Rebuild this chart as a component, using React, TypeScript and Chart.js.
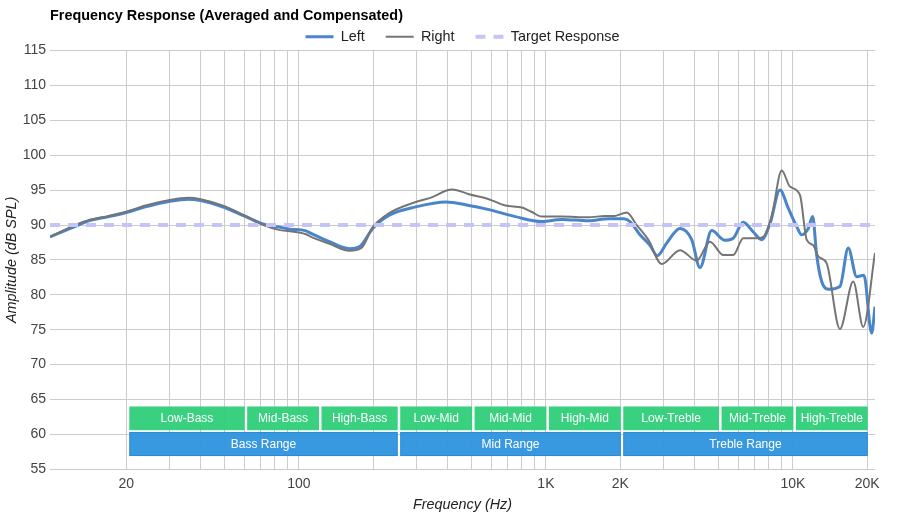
import React, { useEffect, useRef } from 'react';
import { Chart, registerables } from 'chart.js';

Chart.register(...registerables);

const FONT = '"Liberation Sans", Arial, Helvetica, sans-serif';

// ---- data ----
const X_MIN = 9.82;
const X_MAX = 21500;

const LEFT_FREQ = [9.82, 12.8, 14.1, 17, 20, 23.9, 30, 35.7, 40, 50, 60, 72, 83, 92, 106, 112, 133, 160, 176, 199, 232, 297, 393, 488, 587, 752, 963, 1159, 1486, 1789, 2057, 2190, 2404, 2638, 2824, 3083, 3489, 3892, 4205, 4689, 5308, 5735, 6296, 6912, 7474, 8077, 8865, 9577, 10357, 10853, 11541, 12026, 12481, 13078, 13907, 15504, 16754, 18119, 19389, 20836, 21500];
const LEFT_DB = [88.3, 90.0, 90.6, 91.2, 91.8, 92.6, 93.4, 93.7, 93.5, 92.5, 91.3, 90.1, 89.7, 89.4, 89.2, 88.8, 87.6, 86.6, 86.9, 89.5, 91.4, 92.6, 93.3, 92.8, 92.2, 91.2, 90.5, 90.8, 90.6, 90.9, 90.9, 90.5, 88.6, 87.1, 85.6, 87.4, 89.5, 87.9, 83.9, 89.2, 87.8, 88.1, 90.4, 89.0, 87.9, 90.2, 95.0, 92.4, 89.8, 88.6, 89.5, 91.2, 85.7, 81.9, 80.8, 81.2, 86.7, 82.6, 82.8, 74.5, 78.3];

const RIGHT_FREQ = [9.82, 12.8, 14.1, 17, 20, 23.9, 30, 35.7, 40, 50, 60, 72, 83, 92, 106, 112, 133, 160, 179, 199, 232, 297, 347, 393, 418, 488, 587, 686, 800, 873, 963, 1159, 1486, 1735, 1900, 2124, 2331, 2597, 2943, 3489, 4077, 4615, 5224, 5735, 6296, 7134, 7584, 8206, 9006, 9728, 10680, 11371, 12093, 12670, 13700, 15504, 17552, 19264, 21500];
const RIGHT_DB = [88.3, 90.2, 90.7, 91.3, 91.9, 92.8, 93.6, 93.9, 93.7, 92.7, 91.4, 90.0, 89.3, 89.1, 88.7, 88.3, 87.3, 86.3, 86.7, 89.7, 91.7, 93.3, 94.0, 94.9, 95.1, 94.4, 93.7, 92.8, 92.5, 91.9, 91.2, 91.2, 91.1, 91.3, 91.3, 91.8, 90.0, 87.9, 84.4, 86.4, 84.9, 87.6, 85.7, 85.7, 88.1, 88.1, 88.3, 91.2, 97.8, 95.5, 94.3, 87.9, 87.1, 85.5, 84.5, 75.1, 81.9, 75.4, 86.0];

const TARGET_FREQ = [9.82, 21500];
const TARGET_DB = [90, 90];

const GRID_TICKS = [20, 30, 40, 50, 60, 70, 80, 90, 100, 200, 300, 400, 500, 600, 700, 800, 900, 1000, 2000, 3000, 4000, 5000, 6000, 7000, 8000, 9000, 10000, 20000];
const LABEL_TICKS = [20, 100, 1000, 2000, 10000, 20000];

const BAND_NAMES = ['Low-Bass', 'Mid-Bass', 'High-Bass', 'Low-Mid', 'Mid-Mid', 'High-Mid', 'Low-Treble', 'Mid-Treble', 'High-Treble'];
const BAND_EDGES = [20, 60, 120, 250, 500, 1000, 2000, 5000, 10000, 20000];
const BAND_DB = [60.6, 64.0];

const RANGE_NAMES = ['Bass Range', 'Mid Range', 'Treble Range'];
const RANGE_EDGES = [20, 250, 2000, 20000];
const RANGE_DB = [56.9, 60.35];

// ---- styles ----
const LEFT_COLOR = '#4a84c9';
const RIGHT_COLOR = '#757575';
const TARGET_COLOR = '#c4c4f6';
const GRID_COLOR = '#cccccc';
const BAND_FILL = 'rgba(46, 206, 120, 0.95)';
const RANGE_FILL = 'rgba(46, 148, 222, 0.95)';
const RANGE_STROKE = 'rgba(36, 128, 205, 0.6)';
const TEXT_SIZE = 14.4;

const fmtFreq = (v: number) => (v >= 1000 ? `${v / 1000}K` : `${v}`);

const rangeBoxesPlugin = {
  id: 'rangeBoxes',
  beforeDatasetsDraw(chart: any) {
    const { ctx, scales } = chart;
    const x = scales.x;
    const y = scales.y;
    const drawRow = (names: string[], edges: number[], dbs: number[], fill: string, stroke: string | null) => {
      const top = y.getPixelForValue(dbs[1]);
      const bottom = y.getPixelForValue(dbs[0]);
      names.forEach((name, i) => {
        const left = x.getPixelForValue(edges[i]) + 3;
        const right = x.getPixelForValue(edges[i + 1]) + 0.5;
        ctx.fillStyle = fill;
        ctx.fillRect(left, top, right - left, bottom - top);
        if (stroke) {
          ctx.strokeStyle = stroke;
          ctx.lineWidth = 1;
          ctx.strokeRect(left + 0.5, top + 0.5, right - left - 1, bottom - top - 1);
        }
        ctx.fillStyle = '#ffffff';
        ctx.font = `12px ${FONT}`;
        ctx.textAlign = 'center';
        ctx.textBaseline = 'middle';
        ctx.fillText(name, (left + right) / 2, (top + bottom) / 2 + 0.5);
      });
    };
    ctx.save();
    drawRow(BAND_NAMES, BAND_EDGES, BAND_DB, BAND_FILL, null);
    drawRow(RANGE_NAMES, RANGE_EDGES, RANGE_DB, RANGE_FILL, RANGE_STROKE);
    ctx.restore();
  },
};

const LEGEND_HEIGHT = 42;
const legendFitPlugin = {
  id: 'legendFit',
  beforeLayout(chart: any) {
    const lg = chart.legend;
    if (lg && !lg._fitPatched) {
      const orig = lg.fit;
      lg.fit = function () {
        orig.call(this);
        this.height = LEGEND_HEIGHT;
      };
      lg._fitPatched = true;
    }
  },
};

export default function App() {
  const ref = useRef<HTMLCanvasElement>(null);

  useEffect(() => {
    if (!ref.current) return;
    Chart.defaults.font.family = FONT;
    const legendItems = [
      { text: 'Left', strokeStyle: LEFT_COLOR, fillStyle: 'rgba(0,0,0,0)', lineWidth: 3, lineDash: [], pointStyle: 'line', hidden: false, datasetIndex: 0, fontColor: '#222222' },
      { text: 'Right', strokeStyle: RIGHT_COLOR, fillStyle: 'rgba(0,0,0,0)', lineWidth: 2, lineDash: [], pointStyle: 'line', hidden: false, datasetIndex: 1, fontColor: '#222222' },
      { text: 'Target Response', strokeStyle: TARGET_COLOR, fillStyle: 'rgba(0,0,0,0)', lineWidth: 4, lineDash: [10, 8], pointStyle: 'line', hidden: false, datasetIndex: 2, fontColor: '#222222' },
    ];
    const chart = new Chart(ref.current, {
      type: 'line',
      data: {
        datasets: [
          {
            label: 'Left',
            data: LEFT_FREQ.map((f, i) => ({ x: f, y: LEFT_DB[i] })),
            borderColor: LEFT_COLOR,
            backgroundColor: LEFT_COLOR,
            borderWidth: 3,
            pointRadius: 0,
            cubicInterpolationMode: 'monotone',
            borderJoinStyle: 'round',
            order: 2,
          },
          {
            label: 'Right',
            data: RIGHT_FREQ.map((f, i) => ({ x: f, y: RIGHT_DB[i] })),
            borderColor: RIGHT_COLOR,
            backgroundColor: RIGHT_COLOR,
            borderWidth: 2,
            pointRadius: 0,
            cubicInterpolationMode: 'monotone',
            borderJoinStyle: 'round',
            order: 1,
          },
          {
            label: 'Target Response',
            data: TARGET_FREQ.map((f, i) => ({ x: f, y: TARGET_DB[i] })),
            borderColor: TARGET_COLOR,
            backgroundColor: TARGET_COLOR,
            borderWidth: 4,
            borderDash: [10, 8],
            pointRadius: 0,
            order: 0,
          },
        ],
      } as any,
      options: {
        responsive: false,
        animation: false,
        events: [],
        layout: { padding: { top: 0, left: 0, right: 25, bottom: 0 } },
        plugins: {
          tooltip: { enabled: false },
          title: {
            display: true,
            text: 'Frequency Response (Averaged and Compensated)',
            align: 'start',
            fullSize: false,
            color: '#000000',
            font: { size: TEXT_SIZE, weight: 'bold', family: FONT },
            padding: { top: 7, bottom: -15.78 },
          },
          legend: {
            display: true,
            position: 'top',
            align: 'center',
            fullSize: false,
            labels: {
              usePointStyle: true,
              pointStyleWidth: 28,
              padding: 21,
              color: '#222222',
              font: { size: TEXT_SIZE, family: FONT },
              generateLabels: () => legendItems as any,
            },
          },
        },
        scales: {
          x: {
            type: 'logarithmic',
            min: X_MIN,
            max: X_MAX,
            bounds: 'data',
            afterBuildTicks: (scale: any) => {
              scale.ticks = GRID_TICKS.map((v) => ({ value: v }));
            },
            afterFit: (scale: any) => {
              scale.height = 50.7;
            },
            ticks: {
              autoSkip: false,
              maxRotation: 0,
              minRotation: 0,
              padding: 6,
              color: '#444444',
              font: { size: 14, family: FONT },
              callback: (v: any) => (LABEL_TICKS.includes(Number(v)) ? fmtFreq(Number(v)) : ''),
            },
            grid: { color: GRID_COLOR, drawTicks: false, lineWidth: 1 },
            border: { display: false },
            title: {
              display: true,
              text: 'Frequency (Hz)',
              color: '#222222',
              font: { size: TEXT_SIZE, style: 'italic', family: FONT },
              padding: { top: 0, bottom: 6.4 },
            },
          },
          y: {
            type: 'linear',
            min: 55,
            max: 115,
            afterFit: (scale: any) => {
              scale.width = 50;
            },
            ticks: {
              stepSize: 5,
              padding: 4,
              color: '#444444',
              font: { size: 14, family: FONT },
            },
            grid: { color: GRID_COLOR, drawTicks: false, lineWidth: 1 },
            border: { display: false },
            title: {
              display: true,
              text: 'Amplitude (dB SPL)',
              color: '#222222',
              font: { size: TEXT_SIZE, style: 'italic', family: FONT },
              padding: { top: 3.7, bottom: 0 },
            },
          },
        },
      } as any,
      plugins: [rangeBoxesPlugin, legendFitPlugin] as any,
    });
    return () => chart.destroy();
  }, []);

  return (
    <div style={{ position: 'fixed', left: 0, top: 0, width: 900, height: 520, background: '#ffffff' }}>
      <canvas ref={ref} width={900} height={520} style={{ width: 900, height: 520, display: 'block' }} />
    </div>
  );
}
